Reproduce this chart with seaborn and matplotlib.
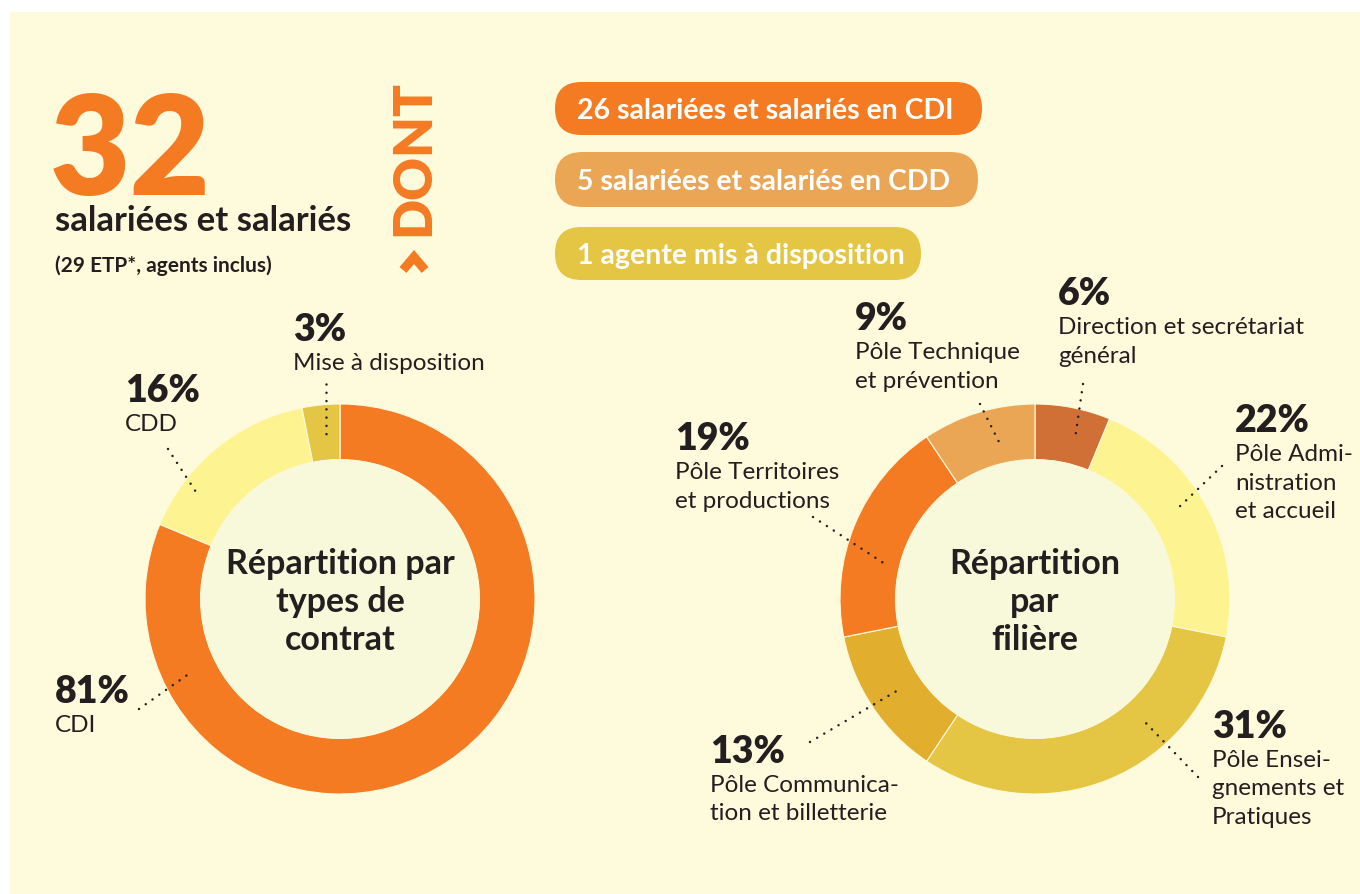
import matplotlib.pyplot as plt
import seaborn as sns
from matplotlib.patches import Rectangle, FancyBboxPatch, Circle

sns.set_theme(style='white')
plt.rcParams['font.family'] = ['Lato', 'DejaVu Sans']

# ============================================================
# DATA
# ============================================================
total_staff = '32'
staff_caption = 'salariées et salariés'
etp_note = '(29 ETP*, agents inclus)'

pill_texts = ['26 salariées et salariés en CDI',
              '5 salariées et salariés en CDD',
              '1 agente mis à disposition']
pill_colors = ['#F47B22', '#EBA655', '#E4C544']

contract_labels = ['CDI', 'CDD', 'Mise à disposition']
contract_counts = [26, 5, 1]
contract_pct = ['81%', '16%', '3%']
contract_colors = ['#F47B22', '#FEF391', '#E4C544']

filiere_labels = ['Direction et secrétariat\ngénéral',
                  'Pôle Admi-\nnistration\net accueil',
                  'Pôle Ensei-\ngnements et\nPratiques',
                  'Pôle Communica-\ntion et billetterie',
                  'Pôle Territoires\net productions',
                  'Pôle Technique\net prévention']
filiere_counts = [2, 7, 10, 4, 6, 3]
filiere_pct = ['6%', '22%', '31%', '13%', '19%', '9%']
filiere_colors = ['#D07036', '#FEF391', '#E4C544', '#E2AE2E', '#F47B22', '#EBA655']

# ============================================================
# LAYOUT
# ============================================================
W, H = 1360, 895
BG = '#FEFADC'
HOLE = '#F8F8DB'
DARK = '#231F20'
ORANGE = '#F47B22'

fig = plt.figure(figsize=(W / 100, H / 100), dpi=100, facecolor='white')

bg = fig.add_axes([0, 0, 1, 1], zorder=0)
bg.set_xlim(0, W)
bg.set_ylim(H, 0)
bg.add_patch(Rectangle((10, 13), W - 10, H - 13, facecolor=BG, edgecolor='none'))
bg.axis('off')


def donut(cx, cy, counts, colors, R=195):
    ax = fig.add_axes([(cx - R) / W, (H - cy - R) / H, 2 * R / W, 2 * R / H], zorder=1)
    ax.pie(counts, colors=colors, startangle=90, counterclock=False, radius=1,
           wedgeprops=dict(width=0.285, edgecolor=BG, linewidth=0.8))
    ax.add_patch(Circle((0, 0), 0.716, facecolor=HOLE, edgecolor='none'))
    ax.set_xlim(-1, 1)
    ax.set_ylim(-1, 1)
    ax.set_aspect('equal')
    ax.axis('off')
    return ax


donut(340, 600, contract_counts, contract_colors)
donut(1035, 600, filiere_counts, filiere_colors)

ov = fig.add_axes([0, 0, 1, 1], zorder=2)
ov.set_xlim(0, W)
ov.set_ylim(H, 0)
ov.axis('off')

# header
ov.text(50, 195, total_staff, color=ORANGE, fontsize=100, fontweight='heavy', va='baseline')
ov.text(55, 231, staff_caption, color=DARK, fontsize=25, fontweight='bold', va='baseline')
ov.text(55, 272, etp_note, color=DARK, fontsize=15, fontweight='bold', va='baseline')
ov.text(414, 158, 'DONT', color=ORANGE, fontsize=38, fontweight='heavy', rotation=90,
        ha='center', va='center')
ov.plot([403, 414, 425], [271, 258, 271], color=ORANGE, lw=6.5, solid_joinstyle='miter',
        solid_capstyle='butt')

# pills
pill_boxes = [(555, 83, 427, 53), (555, 153, 423, 55), (555, 228, 366, 53)]
for (x, y, w, h), txt, col in zip(pill_boxes, pill_texts, pill_colors):
    ov.add_patch(FancyBboxPatch((x, y), w, h, boxstyle=f'round,pad=0,rounding_size={h / 2}',
                                facecolor=col, edgecolor='none'))
    ov.text(x + 22, y + h / 2 + 1, txt, color='white', fontsize=20.5, fontweight='bold',
            va='center', ha='left')


def label(x, y, pct, txt):
    ov.text(x, y, pct, color=DARK, fontsize=27, fontweight='heavy', va='baseline')
    for i, line in enumerate(txt.split('\n')):
        ov.text(x, y + 29 + 28.5 * i, line, color=DARK, fontsize=17.5, va='baseline')


def leader(x0, y0, x1, y1):
    ov.plot([x0, x1], [y0, y1], color=DARK, lw=1.8, ls=(0, (0.01, 3.3)),
            dash_capstyle='round')


# contract donut labels
contract_pos = [(55, 703), (125, 402), (293, 341)]
for (x, y), p, t in zip(contract_pos, contract_pct, contract_labels):
    label(x, y, p, t)
leader(139, 710, 190, 674)
leader(168, 450, 196, 493)
leader(326, 385, 326, 440)

ov.text(340, 602, 'Répartition par\ntypes de\ncontrat', color=DARK, fontsize=24.5,
        fontweight='bold', ha='center', va='center', linespacing=1.22)

# filiere donut labels
filiere_pos = [(1058, 305), (1235, 432), (1212, 738), (710, 763), (675, 450), (855, 330)]
for (x, y), p, t in zip(filiere_pos, filiere_pct, filiere_labels):
    label(x, y, p, t)
leader(1083, 385, 1075, 440)
leader(1222, 467, 1175, 512)
leader(1198, 778, 1142, 720)
leader(810, 743, 900, 690)
leader(813, 518, 885, 565)
leader(980, 405, 1000, 445)

ov.text(1035, 602, 'Répartition\npar\nfilière', color=DARK, fontsize=24.5,
        fontweight='bold', ha='center', va='center', linespacing=1.22)

plt.savefig('out.png', dpi=100, facecolor=fig.get_facecolor())
